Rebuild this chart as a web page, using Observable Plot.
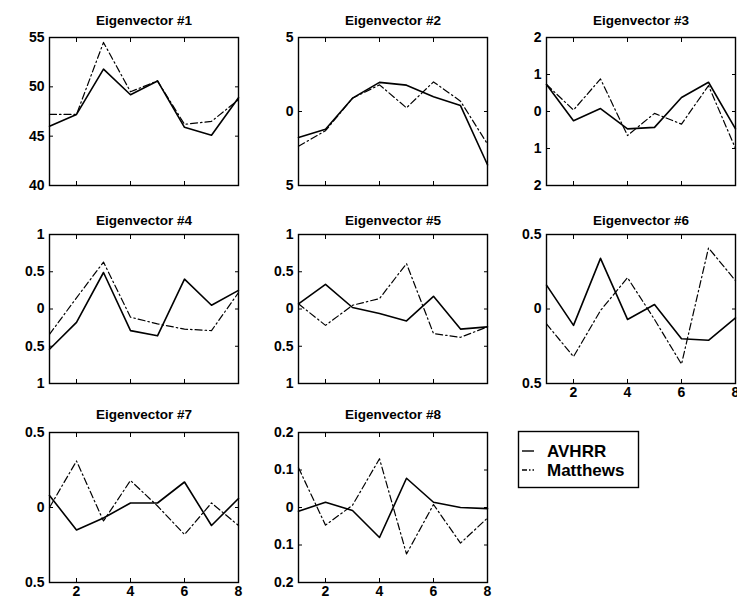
<!DOCTYPE html>
<html><head><meta charset="utf-8">
<script src="https://cdn.jsdelivr.net/npm/d3@7"></script>
<script src="https://cdn.jsdelivr.net/npm/@observablehq/plot@0.6"></script>
<style>
body{margin:0;background:#fff}
#root{position:relative;width:737px;height:599px;overflow:hidden;background:#fff}
#root > div, #root > svg{position:absolute}
</style>
</head><body><div id="root"></div>
<script>
// ---- data ----
const xs = [1, 2, 3, 4, 5, 6, 7, 8];
const xTicks = [2, 4, 6, 8];
const titles = ["Eigenvector #1","Eigenvector #2","Eigenvector #3","Eigenvector #4",
                "Eigenvector #5","Eigenvector #6","Eigenvector #7","Eigenvector #8"];
const seriesNames = ["AVHRR", "Matthews"];

const avhrr1 = [46.0, 47.2, 51.8, 49.2, 50.6, 45.9, 45.1, 48.9];
const matthews1 = [47.2, 47.2, 54.5, 49.5, 50.6, 46.2, 46.5, 48.7];
const avhrr2 = [-1.75, -1.2, 0.9, 1.97, 1.78, 1.0, 0.4, -3.6];
const matthews2 = [-2.35, -1.3, 0.9, 1.8, 0.25, 2.0, 0.7, -2.2];
const avhrr3 = [0.73, -0.25, 0.08, -0.47, -0.43, 0.38, 0.79, -0.47];
const matthews3 = [0.73, 0.04, 0.88, -0.65, -0.05, -0.34, 0.7, -1.0];
const avhrr4 = [-0.54, -0.18, 0.49, -0.29, -0.36, 0.40, 0.05, 0.25];
const matthews4 = [-0.34, 0.15, 0.63, -0.11, -0.2, -0.27, -0.29, 0.22];
const avhrr5 = [0.07, 0.33, 0.02, -0.06, -0.16, 0.17, -0.27, -0.24];
const matthews5 = [0.07, -0.22, 0.05, 0.14, 0.61, -0.33, -0.38, -0.24];
const avhrr6 = [0.16, -0.11, 0.34, -0.07, 0.03, -0.20, -0.21, -0.06];
const matthews6 = [-0.10, -0.32, -0.01, 0.21, -0.07, -0.37, 0.41, 0.19];
const avhrr7 = [0.08, -0.15, -0.07, 0.03, 0.03, 0.17, -0.12, 0.06];
const matthews7 = [0.0, 0.31, -0.09, 0.18, 0.01, -0.18, 0.03, -0.12];
const avhrr8 = [-0.01, 0.014, -0.008, -0.08, 0.078, 0.014, 0.0, -0.003];
const matthews8 = [0.106, -0.047, 0.006, 0.13, -0.124, 0.008, -0.095, -0.028];

const yTicks1 = [40, 45, 50, 55];
const yTicks2 = [-5, 0, 5];
const yTicks3 = [-2, -1, 0, 1, 2];
const yTicks4 = [-1, -0.5, 0, 0.5, 1];
const yTicks5 = [-1, -0.5, 0, 0.5, 1];
const yTicks6 = [-0.5, 0, 0.5];
const yTicks7 = [-0.5, 0, 0.5];
const yTicks8 = [-0.2, -0.1, 0, 0.1, 0.2];

const avhrrAll = [avhrr1, avhrr2, avhrr3, avhrr4, avhrr5, avhrr6, avhrr7, avhrr8];
const matthewsAll = [matthews1, matthews2, matthews3, matthews4, matthews5, matthews6, matthews7, matthews8];
const yTicksAll = [yTicks1, yTicks2, yTicks3, yTicks4, yTicks5, yTicks6, yTicks7, yTicks8];
const showXLabels = [false, false, false, false, false, true, true, true];

// ---- layout ----
const root = document.getElementById("root");
const colLeft = [49, 298, 546];
const frameW = 189;
const rowTop = [37, 234, 432];
const rowH = [148, 149, 150];
const titleOffset = [17, 14, 18];
const mL = 50, mR = 8, mT = 32, mB = 24;
const FONT = "Liberation Sans, Arial, Helvetica, sans-serif";
const dashDot = "7,3,1.5,3";

for (let i = 0; i < 8; i++) {
  const col = i % 3, row = Math.floor(i / 3);
  const ticks = yTicksAll[i];
  const rows = xs.flatMap((x, j) => [
    {x, y: avhrrAll[i][j], s: seriesNames[0]},
    {x, y: matthewsAll[i][j], s: seriesNames[1]}
  ]);
  const plot = Plot.plot({
    width: frameW + mL + mR,
    height: rowH[row] + mT + mB,
    marginLeft: mL, marginRight: mR, marginTop: mT, marginBottom: mB,
    x: {domain: [1, 8]},
    y: {domain: [ticks[0], ticks[ticks.length - 1]]},
    style: {fontFamily: FONT, fontSize: "14px", fontWeight: "bold", color: "black", background: "transparent", overflow: "visible"},
    marks: [
      Plot.axisY({ticks, anchor: "left", tickSize: 4, insetLeft: 4, tickPadding: 5,
        tickFormat: d => String(Math.abs(d)), label: null, fontSize: 14, strokeWidth: 1}),
      Plot.axisY({ticks, anchor: "right", tickSize: 4, insetRight: 4, tickFormat: () => "", label: null}),
      Plot.axisX({ticks: xTicks, anchor: "bottom", tickSize: 4, insetBottom: 4, tickPadding: 4,
        tickFormat: showXLabels[i] ? (d => String(d)) : (() => ""), label: null, fontSize: 14}),
      Plot.axisX({ticks: xTicks, anchor: "top", tickSize: 4, insetTop: 4, tickFormat: () => "", label: null}),
      Plot.line(rows.filter(d => d.s === "Matthews"), {x: "x", y: "y", stroke: "black", strokeWidth: 1.2, strokeDasharray: dashDot}),
      Plot.line(rows.filter(d => d.s === "AVHRR"), {x: "x", y: "y", stroke: "black", strokeWidth: 1.6}),
      Plot.frame({stroke: "black", strokeWidth: 1.4}),
      Plot.text([titles[i]], {frameAnchor: "top", dy: -titleOffset[row], lineAnchor: "middle", fontSize: 13.5, fontWeight: "bold", fill: "black"})
    ]
  });
  plot.style.left = (colLeft[col] - mL) + "px";
  plot.style.top = (rowTop[row] - mT) + "px";
  root.appendChild(plot);
}

// ---- legend ----
const lg = d3.select(root).append("svg")
  .attr("width", 130).attr("height", 64)
  .style("left", "514px").style("top", "427px");
lg.append("rect").attr("x", 4.5).attr("y", 4.5).attr("width", 120).attr("height", 56)
  .attr("fill", "white").attr("stroke", "black").attr("stroke-width", 1.4);
const lgItems = seriesNames.map((name, k) => ({name, dash: k === 0 ? null : "5,2,1.5,2"}));
lgItems.forEach((it, k) => {
  const cy = 24 + k * 19;
  lg.append("line").attr("x1", 8).attr("x2", 20).attr("y1", cy).attr("y2", cy)
    .attr("stroke", "black").attr("stroke-width", 1.4)
    .attr("stroke-dasharray", it.dash);
  lg.append("text").attr("x", 33).attr("y", cy + 6)
    .attr("font-family", FONT).attr("font-weight", "bold").attr("font-size", 17)
    .text(it.name);
});
</script>
</body></html>
